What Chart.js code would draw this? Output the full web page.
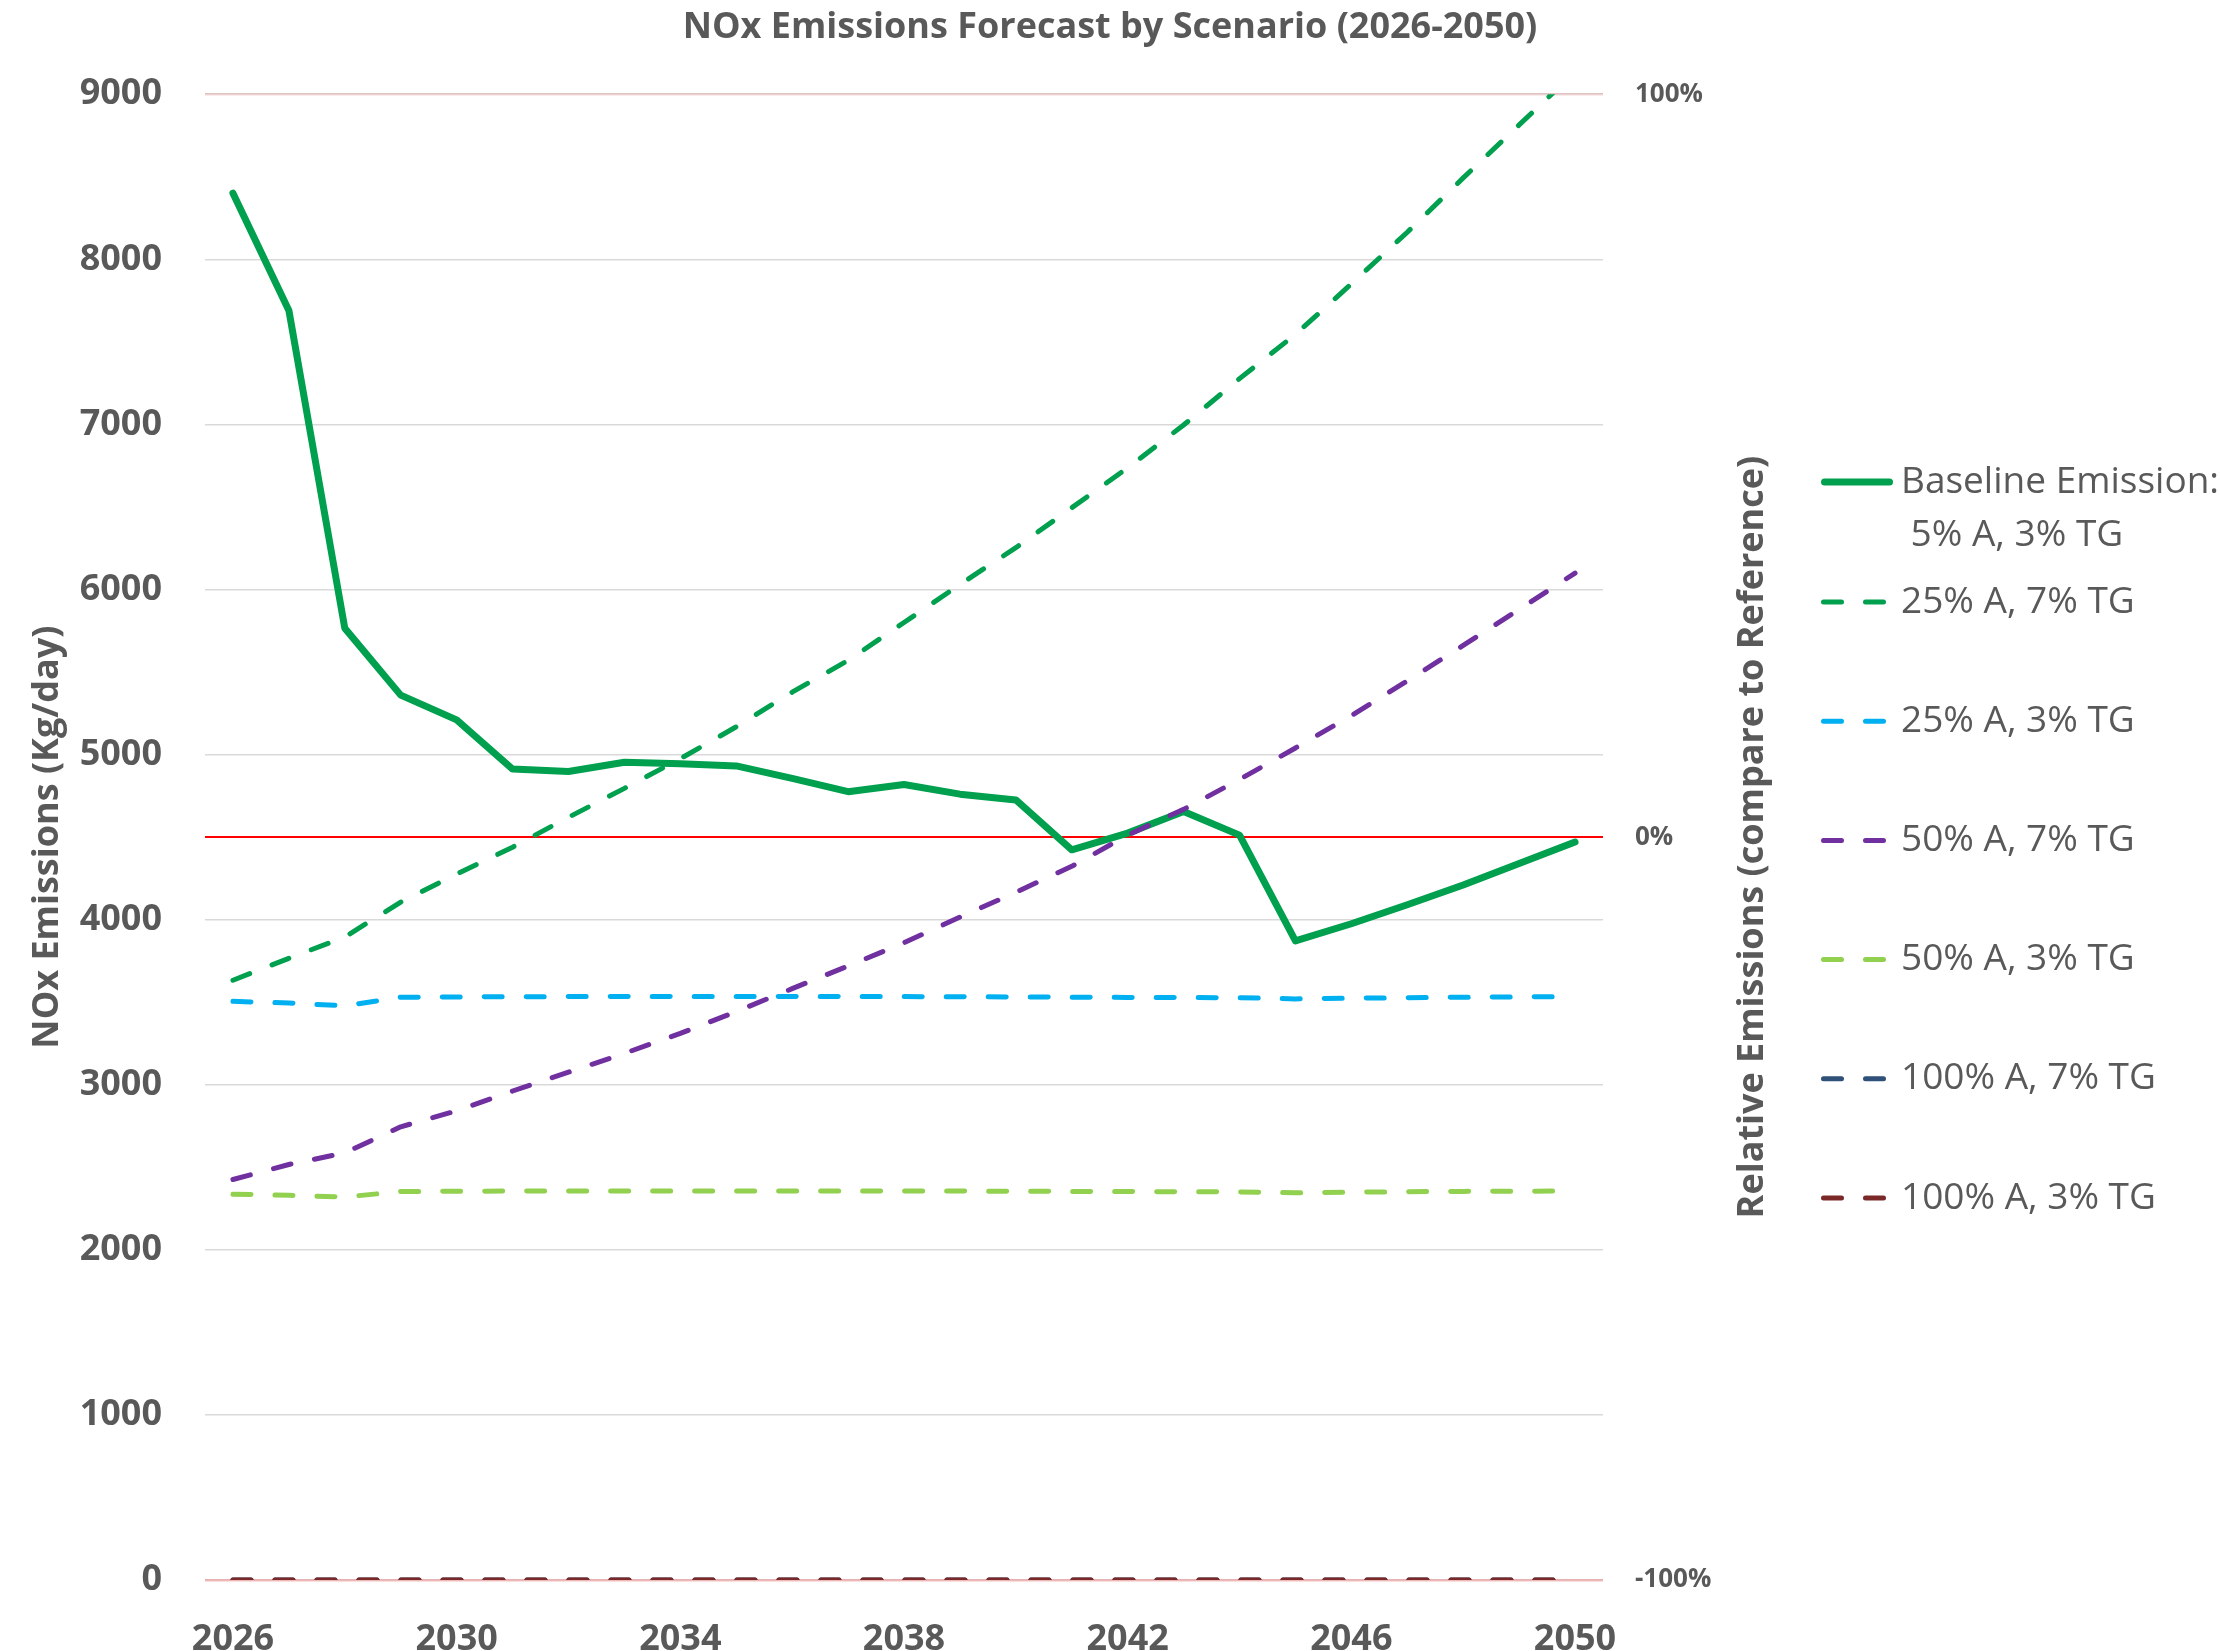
<!DOCTYPE html>
<html>
<head>
<meta charset="utf-8">
<title>NOx Emissions Forecast by Scenario</title>
<script src="https://cdn.jsdelivr.net/npm/chart.js@4.4.1/dist/chart.umd.min.js"></script>
<style>
  html, body { margin: 0; padding: 0; background: #fff; }
  canvas { display: block; }
</style>
</head>
<body>
<canvas id="noxChart" width="2220" height="1651" style="width:2220px;height:1651px"></canvas>
<script>
// forecast years and the ones that get a label on the x axis
const years = ['2026', '2027', '2028', '2029', '2030', '2031', '2032', '2033', '2034', '2035',
  '2036', '2037', '2038', '2039', '2040', '2041', '2042', '2043', '2044', '2045',
  '2046', '2047', '2048', '2049', '2050'];
const yearTicks = ['2026', '2030', '2034', '2038', '2042', '2046', '2050'];

// NOx emissions, kg/day
const baseline = [8400, 7690, 5765, 5360, 5210, 4912, 4897, 4953, 4944, 4931,
  4856, 4775, 4819, 4760, 4725, 4423, 4524, 4655, 4512, 3871,
  3975, 4090, 4210, 4340, 4470];
const a25tg7 = [3633, 3766, 3895, 4106, 4276, 4439, 4620, 4795, 4975, 5168,
  5378, 5570, 5800, 6030, 6253, 6495, 6737, 6996, 7277, 7545,
  7851, 8164, 8493, 8814, 9134];
const a25tg3 = [3505, 3495, 3478, 3530, 3532, 3533, 3534, 3535, 3534, 3534,
  3535, 3534, 3534, 3533, 3532, 3530, 3529, 3528, 3527, 3520,
  3524, 3527, 3530, 3532, 3533];
const a50tg7 = [2426, 2517, 2587, 2745, 2842, 2962, 3076, 3190, 3311, 3443,
  3582, 3719, 3860, 4015, 4166, 4323, 4512, 4668, 4849, 5040,
  5236, 5446, 5661, 5879, 6099];
const a50tg3 = [2337, 2330, 2320, 2353, 2355, 2356, 2357, 2357, 2357, 2357,
  2357, 2357, 2356, 2356, 2355, 2354, 2353, 2352, 2351, 2346,
  2349, 2352, 2354, 2355, 2356];
const a100tg7 = [0, 0, 0, 0, 0, 0, 0, 0, 0, 0, 0, 0, 0, 0, 0, 0, 0, 0, 0, 0, 0, 0, 0, 0, 0];
const a100tg3 = [0, 0, 0, 0, 0, 0, 0, 0, 0, 0, 0, 0, 0, 0, 0, 0, 0, 0, 0, 0, 0, 0, 0, 0, 0];

const seriesNames = ['Baseline Emission:\n 5% A, 3% TG', '25% A, 7% TG', '25% A, 3% TG',
  '50% A, 7% TG', '50% A, 3% TG', '100% A, 7% TG', '100% A, 3% TG'];

const chartTitle = 'NOx Emissions Forecast by Scenario (2026-2050)';
const leftTitle = 'NOx Emissions (Kg/day)';
const rightTitle = 'Relative Emissions (compare to Reference)';

const grey = '#595959';
Chart.defaults.font.family = "'Open Sans', sans-serif";
Chart.defaults.color = grey;

function scenario(i, data, color, solid) {
  return {
    label: seriesNames[i].replace('\n', ''),
    data: data,
    borderColor: color,
    backgroundColor: color,
    borderWidth: solid ? 7 : 5,
    borderDash: solid ? [] : [18, 24],
    borderCapStyle: 'round',
    borderJoinStyle: 'round',
    pointRadius: 0,
    tension: 0,
    yAxisID: 'y',
    order: -i   // later series painted on top
  };
}

// legend down the right side plus the secondary axis title (reads bottom-to-top)
const sideLegend = {
  id: 'sideLegend',
  afterDraw(chart, args, opts) {
    const ctx = chart.ctx;
    const area = chart.chartArea;
    ctx.save();

    ctx.fillStyle = grey;
    ctx.font = 'bold 36px "Open Sans"';
    ctx.textAlign = 'center';
    ctx.textBaseline = 'middle';
    ctx.translate(opts.axisTitleX, (area.top + area.bottom) / 2);
    ctx.rotate(-Math.PI / 2);
    ctx.fillText(rightTitle, 0, 0);
    ctx.setTransform(1, 0, 0, 1, 0, 0);

    ctx.font = '37px "Open Sans"';
    ctx.textAlign = 'left';
    chart.data.datasets.forEach((ds, i) => {
      const y = i === 0 ? opts.firstRow : opts.secondRow + (i - 1) * opts.rowGap;
      const half = ds.borderWidth / 2;
      ctx.strokeStyle = ds.borderColor;
      ctx.lineWidth = ds.borderWidth;
      ctx.lineCap = 'round';
      ctx.setLineDash(ds.borderDash);
      ctx.beginPath();
      ctx.moveTo(opts.left + half, y);
      ctx.lineTo(opts.left + (ds.borderDash.length ? 65 : 72) - half, y);
      ctx.stroke();
      ctx.setLineDash([]);
      ctx.fillStyle = grey;
      seriesNames[i].split('\n').forEach((line, k) => {
        ctx.fillText(line, opts.left + 80, y + k * opts.lineGap);
      });
    });
    ctx.restore();
  }
};

new Chart(document.getElementById('noxChart'), {
  type: 'line',
  data: {
    labels: years,
    datasets: [
      scenario(0, baseline, '#00a04f', true),
      scenario(1, a25tg7, '#00a04f', false),
      scenario(2, a25tg3, '#00b0f0', false),
      scenario(3, a50tg7, '#7030a0', false),
      scenario(4, a50tg3, '#92d050', false),
      scenario(5, a100tg7, '#2f5078', false),
      scenario(6, a100tg3, '#7a2828', false)
    ]
  },
  options: {
    responsive: false,
    devicePixelRatio: 1,
    animation: false,
    layout: { padding: 0 },
    plugins: {
      legend: { display: false },
      tooltip: { enabled: false },
      title: {
        display: true,
        text: chartTitle,
        color: grey,
        font: { size: 36, weight: 'bold' },
        padding: { top: 6, bottom: 45 }
      },
      sideLegend: { left: 1821, firstRow: 482, secondRow: 602, rowGap: 119.2, lineGap: 53, axisTitleX: 1753 }
    },
    scales: {
      x: {
        offset: true,
        grid: { display: false, drawTicks: false },
        border: { display: false },
        ticks: {
          autoSkip: false,
          maxRotation: 0,
          padding: 42,
          color: grey,
          font: { size: 36, weight: 'bold', lineHeight: 1 },
          callback: function (value) {
            const label = this.getLabelForValue(value);
            return yearTicks.includes(label) ? label : '';
          }
        },
        afterFit: (scale) => { scale.height = 71; }
      },
      y: {
        position: 'left',
        min: 0,
        max: 9000,
        ticks: {
          stepSize: 1000,
          padding: 43,
          color: grey,
          font: { size: 36, weight: 'bold' },
          callback: (v) => String(v)
        },
        grid: { color: '#d9d9d9', lineWidth: 1.5, drawTicks: false },
        border: { display: false },
        title: {
          display: true,
          text: leftTitle,
          color: grey,
          font: { size: 36, weight: 'bold' },
          padding: { top: 26, bottom: 10 }
        },
        afterFit: (scale) => { scale.width = 205; }
      },
      y1: {
        position: 'right',
        min: -1,
        max: 1,
        ticks: {
          stepSize: 1,
          padding: 32,
          color: grey,
          font: { size: 26, weight: 'bold' },
          callback: (v) => Math.round(v * 100) + '%'
        },
        grid: {
          drawTicks: false,
          color: (c) => {
            if (!c.tick) return '#d9d9d9';
            if (c.tick.value === 0) return '#ff0000';
            return c.tick.value > 0 ? 'rgba(230, 170, 170, 0.45)' : 'rgba(238, 150, 150, 0.6)';
          },
          lineWidth: (c) => c.tick && c.tick.value === 0 ? 2 : 2.5
        },
        border: { display: false },
        afterFit: (scale) => { scale.width = 617; }
      }
    }
  },
  plugins: [sideLegend]
});
</script>
</body>
</html>
